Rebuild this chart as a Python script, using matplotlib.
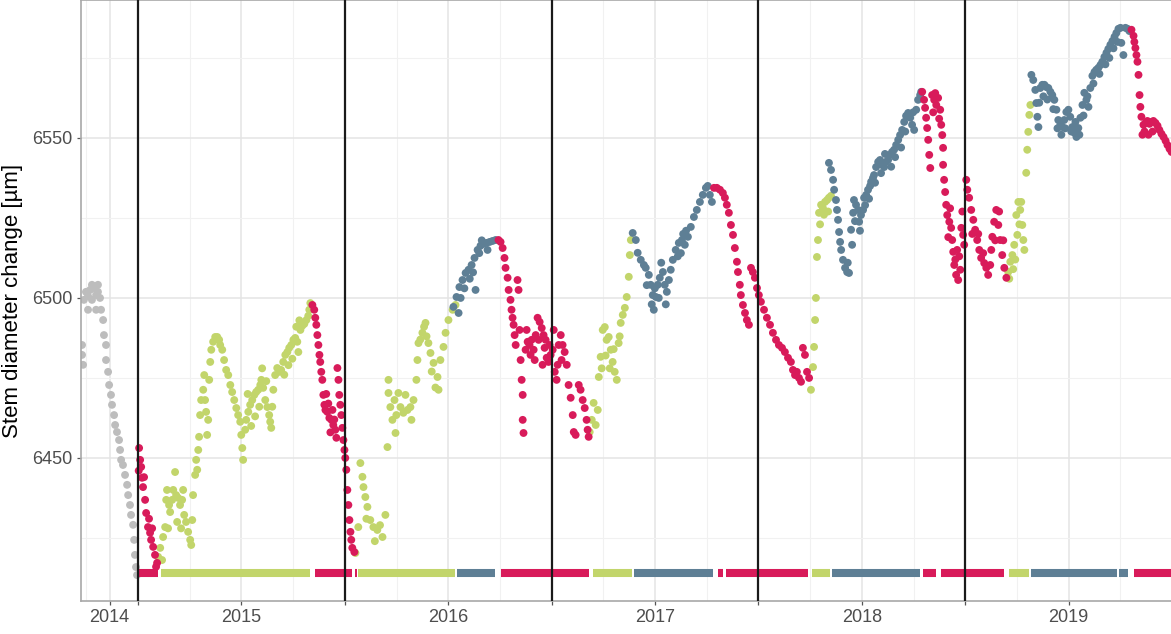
import matplotlib

matplotlib.use("Agg")
import matplotlib.pyplot as plt
import numpy as np

plt.rcParams["font.family"] = ["Liberation Sans", "DejaVu Sans"]

# ----- data: (decimal year, stem diameter change in um) -----
grey_pts = [
    (2014.729, 6482.2), (2014.729, 6485.3), (2014.734, 6479.1), (2014.738, 6499.4),
    (2014.748, 6501.9), (2014.758, 6500.6), (2014.758, 6496.3), (2014.768, 6502.5),
    (2014.777, 6499.4), (2014.777, 6504.1), (2014.787, 6503.1), (2014.797, 6500.9),
    (2014.797, 6496.3), (2014.806, 6501.9), (2014.806, 6504.1), (2014.816, 6500.0),
    (2014.821, 6496.3), (2014.831, 6493.1), (2014.835, 6488.4), (2014.845, 6485.3),
    (2014.845, 6480.6), (2014.855, 6476.9), (2014.860, 6472.8), (2014.869, 6469.7),
    (2014.874, 6466.6), (2014.884, 6463.4), (2014.889, 6460.3), (2014.898, 6458.1),
    (2014.908, 6455.6), (2014.913, 6452.5), (2014.918, 6449.4), (2014.927, 6447.8),
    (2014.937, 6444.7), (2014.947, 6441.6), (2014.952, 6438.4), (2014.961, 6435.3),
    (2014.966, 6432.2), (2014.976, 6429.1), (2014.981, 6424.4), (2014.985, 6419.7),
    (2014.990, 6415.9), (2014.995, 6413.4),
]

shrink_pts = [
    # 2015
    (2015.003, 6446.0), (2015.005, 6453.1), (2015.010, 6449.4), (2015.015, 6447.2),
    (2015.019, 6443.8), (2015.024, 6440.9), (2015.029, 6444.0), (2015.034, 6436.9),
    (2015.039, 6432.8), (2015.048, 6428.4), (2015.053, 6431.0), (2015.058, 6426.6),
    (2015.063, 6424.4), (2015.068, 6428.0), (2015.073, 6422.2), (2015.082, 6419.7),
    (2015.087, 6416.0), (2015.092, 6417.2),
    # 2015/16
    (2015.843, 6497.8), (2015.852, 6496.3), (2015.857, 6493.8), (2015.862, 6491.6),
    (2015.867, 6488.4), (2015.872, 6485.3), (2015.877, 6482.2), (2015.881, 6480.0),
    (2015.886, 6476.9), (2015.891, 6474.4), (2015.896, 6469.7), (2015.901, 6466.6),
    (2015.906, 6465.0), (2015.910, 6470.0), (2015.915, 6464.4), (2015.920, 6467.0),
    (2015.925, 6462.5), (2015.930, 6458.0), (2015.935, 6461.9), (2015.940, 6465.0),
    (2015.944, 6460.3), (2015.949, 6462.0), (2015.954, 6458.8), (2015.959, 6456.3),
    (2015.964, 6478.1), (2015.969, 6474.4), (2015.973, 6469.7), (2015.978, 6466.6),
    (2015.983, 6463.4), (2015.988, 6459.4), (2015.993, 6455.6), (2015.998, 6452.5),
    (2016.002, 6450.0), (2016.007, 6446.3), (2016.012, 6440.0), (2016.017, 6435.3),
    (2016.022, 6430.6), (2016.027, 6426.9), (2016.031, 6424.4), (2016.036, 6421.9),
    (2016.046, 6420.6),
    # 2016/17
    (2016.743, 6518.1), (2016.753, 6517.5), (2016.763, 6515.6), (2016.772, 6512.5),
    (2016.777, 6509.4), (2016.787, 6506.3), (2016.792, 6502.5), (2016.801, 6499.4),
    (2016.806, 6496.3), (2016.811, 6493.8), (2016.816, 6491.6), (2016.821, 6488.4),
    (2016.826, 6485.3), (2016.835, 6505.6), (2016.840, 6502.5), (2016.845, 6490.0),
    (2016.850, 6480.6), (2016.855, 6474.4), (2016.860, 6469.7), (2016.860, 6461.9),
    (2016.864, 6457.8), (2016.874, 6483.8), (2016.879, 6490.0), (2016.884, 6486.3),
    (2016.893, 6485.3), (2016.898, 6482.2), (2016.903, 6486.9), (2016.913, 6483.8),
    (2016.918, 6480.6), (2016.923, 6488.4), (2016.932, 6493.8), (2016.937, 6486.9),
    (2016.942, 6492.5), (2016.952, 6490.6), (2016.956, 6479.1), (2016.961, 6488.4),
    (2016.966, 6484.4), (2016.971, 6486.9), (2016.976, 6481.3), (2016.985, 6480.0),
    (2016.990, 6485.3), (2016.995, 6482.2), (2017.005, 6483.8), (2017.010, 6490.0),
    (2017.015, 6476.9), (2017.024, 6474.4), (2017.029, 6479.1), (2017.034, 6485.3),
    (2017.044, 6488.4), (2017.048, 6480.6), (2017.053, 6485.3), (2017.063, 6483.1),
    (2017.073, 6479.1), (2017.082, 6472.8), (2017.092, 6468.8), (2017.102, 6463.4),
    (2017.107, 6458.1), (2017.116, 6457.2), (2017.131, 6472.8), (2017.140, 6471.3),
    (2017.150, 6468.1), (2017.160, 6465.6), (2017.169, 6461.9), (2017.174, 6458.8),
    (2017.179, 6456.6),
    # 2017/18
    (2017.785, 6534.4), (2017.799, 6534.4), (2017.814, 6533.8), (2017.828, 6532.8),
    (2017.838, 6531.3), (2017.847, 6529.1), (2017.857, 6526.6), (2017.867, 6522.8),
    (2017.877, 6519.7), (2017.886, 6515.6), (2017.896, 6511.3), (2017.901, 6508.1),
    (2017.910, 6504.1), (2017.915, 6500.9), (2017.925, 6497.8), (2017.935, 6495.3),
    (2017.944, 6493.1), (2017.954, 6491.6), (2017.964, 6509.4), (2017.973, 6508.1),
    (2017.983, 6506.3), (2017.993, 6503.1), (2018.002, 6500.9), (2018.012, 6498.8),
    (2018.027, 6496.3), (2018.041, 6493.8), (2018.056, 6491.6), (2018.070, 6489.1),
    (2018.085, 6486.9), (2018.099, 6485.3), (2018.114, 6484.4), (2018.128, 6483.1),
    (2018.143, 6481.3), (2018.157, 6480.0), (2018.167, 6477.5), (2018.177, 6475.9),
    (2018.186, 6476.9), (2018.196, 6475.0), (2018.206, 6473.8), (2018.215, 6484.4),
    (2018.225, 6482.2), (2018.235, 6476.9), (2018.245, 6475.0),
    # 2018/19
    (2018.792, 6564.4), (2018.801, 6561.9), (2018.806, 6559.4), (2018.811, 6556.3),
    (2018.816, 6553.1), (2018.821, 6549.4), (2018.826, 6544.7), (2018.831, 6540.6),
    (2018.840, 6563.4), (2018.845, 6558.0), (2018.850, 6561.9), (2018.855, 6564.0),
    (2018.860, 6560.3), (2018.869, 6562.5), (2018.874, 6556.0), (2018.879, 6558.8),
    (2018.884, 6554.1), (2018.889, 6550.9), (2018.893, 6546.9), (2018.893, 6541.6),
    (2018.898, 6536.9), (2018.903, 6533.1), (2018.908, 6529.1), (2018.913, 6525.9),
    (2018.918, 6519.0), (2018.923, 6523.8), (2018.927, 6528.0), (2018.932, 6521.9),
    (2018.937, 6518.1), (2018.942, 6514.4), (2018.947, 6510.3), (2018.952, 6512.0),
    (2018.956, 6507.2), (2018.961, 6515.0), (2018.966, 6505.6), (2018.971, 6513.0),
    (2018.976, 6508.8), (2018.981, 6521.9), (2018.986, 6527.0), (2018.990, 6519.7),
    (2018.995, 6516.6), (2019.005, 6536.9), (2019.010, 6533.8), (2019.019, 6531.3),
    (2019.029, 6527.5), (2019.034, 6520.0), (2019.039, 6524.4), (2019.048, 6521.3),
    (2019.058, 6518.1), (2019.063, 6520.0), (2019.068, 6515.0), (2019.077, 6512.5),
    (2019.087, 6514.0), (2019.092, 6510.9), (2019.102, 6509.4), (2019.111, 6507.2),
    (2019.121, 6510.3), (2019.126, 6515.0), (2019.131, 6519.1), (2019.140, 6523.8),
    (2019.145, 6518.0), (2019.150, 6527.5), (2019.160, 6522.8), (2019.164, 6527.0),
    (2019.169, 6518.1), (2019.179, 6513.4), (2019.184, 6518.0), (2019.189, 6509.4),
    (2019.199, 6506.3),
    # 2019
    (2019.804, 6583.8), (2019.814, 6581.9), (2019.818, 6580.0), (2019.823, 6578.1),
    (2019.828, 6575.9), (2019.833, 6573.8), (2019.838, 6569.7), (2019.843, 6563.4),
    (2019.847, 6559.7), (2019.852, 6556.6), (2019.857, 6551.0), (2019.862, 6554.1),
    (2019.867, 6552.0), (2019.872, 6554.7), (2019.881, 6555.3), (2019.886, 6551.0),
    (2019.891, 6554.4), (2019.901, 6555.0), (2019.906, 6552.0), (2019.910, 6555.3),
    (2019.920, 6554.7), (2019.930, 6553.8), (2019.939, 6552.5), (2019.949, 6551.3),
    (2019.959, 6550.3), (2019.969, 6549.1), (2019.978, 6547.8), (2019.988, 6546.6),
    (2019.998, 6545.6),
]

recovery_pts = [
    # 2015
    (2015.097, 6419.1), (2015.107, 6421.9), (2015.116, 6418.1), (2015.121, 6425.3),
    (2015.131, 6428.4), (2015.136, 6436.9), (2015.140, 6440.0), (2015.145, 6428.0),
    (2015.150, 6435.3), (2015.155, 6433.1), (2015.165, 6436.9), (2015.170, 6440.0),
    (2015.179, 6445.6), (2015.184, 6438.4), (2015.189, 6430.0), (2015.194, 6437.5),
    (2015.203, 6435.3), (2015.208, 6428.0), (2015.213, 6436.9), (2015.218, 6440.0),
    (2015.223, 6432.2), (2015.232, 6430.0), (2015.242, 6426.9), (2015.252, 6424.4),
    (2015.257, 6422.8), (2015.262, 6430.6), (2015.266, 6438.4), (2015.276, 6444.7),
    (2015.281, 6449.4), (2015.286, 6446.3), (2015.291, 6452.5), (2015.295, 6456.6),
    (2015.300, 6463.4), (2015.305, 6468.1), (2015.315, 6471.3), (2015.320, 6475.9),
    (2015.324, 6468.1), (2015.329, 6464.4), (2015.334, 6457.2), (2015.339, 6461.9),
    (2015.344, 6474.4), (2015.349, 6480.0), (2015.354, 6483.8), (2015.363, 6486.3),
    (2015.373, 6487.8), (2015.383, 6487.8), (2015.392, 6486.9), (2015.397, 6485.3),
    (2015.407, 6483.8), (2015.416, 6480.6), (2015.426, 6477.5), (2015.436, 6475.9),
    (2015.446, 6472.8), (2015.455, 6470.6), (2015.465, 6468.1), (2015.475, 6465.6),
    (2015.484, 6463.4), (2015.494, 6461.3), (2015.499, 6457.2), (2015.504, 6453.1),
    (2015.508, 6449.4), (2015.518, 6458.8), (2015.523, 6461.9), (2015.530, 6470.0),
    (2015.533, 6464.4), (2015.542, 6466.6), (2015.547, 6460.0), (2015.552, 6468.1),
    (2015.562, 6469.7), (2015.566, 6463.0), (2015.571, 6470.6), (2015.581, 6471.3),
    (2015.586, 6466.0), (2015.591, 6472.8), (2015.596, 6474.4), (2015.600, 6478.0),
    (2015.605, 6471.9), (2015.615, 6468.1), (2015.620, 6474.0), (2015.625, 6465.9),
    (2015.634, 6463.4), (2015.639, 6461.3), (2015.644, 6459.4), (2015.649, 6466.0),
    (2015.654, 6471.3), (2015.663, 6475.9), (2015.673, 6478.1), (2015.683, 6476.9),
    (2015.692, 6477.5), (2015.702, 6480.0), (2015.707, 6476.0), (2015.712, 6482.2),
    (2015.722, 6483.1), (2015.727, 6479.0), (2015.731, 6484.4), (2015.741, 6485.3),
    (2015.746, 6481.0), (2015.751, 6486.9), (2015.760, 6487.5), (2015.765, 6491.0),
    (2015.770, 6486.3), (2015.775, 6483.1), (2015.780, 6493.0), (2015.785, 6490.0),
    (2015.794, 6491.3), (2015.804, 6491.9), (2015.814, 6493.1), (2015.823, 6494.4),
    (2015.828, 6496.3), (2015.833, 6498.4),
    # 2016
    (2016.051, 6420.3), (2016.065, 6428.4), (2016.075, 6448.4), (2016.085, 6444.1),
    (2016.090, 6440.9), (2016.099, 6437.8), (2016.104, 6431.0), (2016.109, 6434.7),
    (2016.123, 6430.6), (2016.138, 6428.4), (2016.145, 6424.0), (2016.157, 6427.5),
    (2016.170, 6429.0), (2016.182, 6425.3), (2016.196, 6432.2), (2016.206, 6453.4),
    (2016.211, 6474.4), (2016.211, 6470.3), (2016.220, 6465.9), (2016.230, 6461.9),
    (2016.240, 6468.1), (2016.245, 6457.8), (2016.249, 6463.4), (2016.259, 6470.3),
    (2016.269, 6465.9), (2016.283, 6464.1), (2016.293, 6469.7), (2016.303, 6465.0),
    (2016.317, 6465.9), (2016.322, 6461.9), (2016.332, 6468.1), (2016.346, 6474.4),
    (2016.351, 6480.6), (2016.356, 6485.9), (2016.365, 6487.0), (2016.375, 6489.1),
    (2016.383, 6491.0), (2016.390, 6492.2), (2016.395, 6488.0), (2016.404, 6485.9),
    (2016.414, 6482.8), (2016.420, 6477.0), (2016.429, 6479.7), (2016.438, 6472.0),
    (2016.448, 6475.3), (2016.453, 6471.3), (2016.462, 6480.6), (2016.477, 6484.7),
    (2016.487, 6489.1), (2016.501, 6493.1), (2016.521, 6496.3), (2016.535, 6497.8),
    # 2017
    (2017.184, 6458.1), (2017.194, 6461.9), (2017.203, 6467.2), (2017.213, 6460.3),
    (2017.223, 6465.0), (2017.228, 6475.3), (2017.237, 6481.6), (2017.242, 6478.0),
    (2017.247, 6490.0), (2017.257, 6490.9), (2017.261, 6482.0), (2017.266, 6486.9),
    (2017.276, 6487.8), (2017.281, 6478.0), (2017.286, 6483.8), (2017.295, 6480.0),
    (2017.300, 6484.0), (2017.305, 6476.9), (2017.315, 6474.4), (2017.324, 6485.9),
    (2017.329, 6488.0), (2017.334, 6492.2), (2017.344, 6494.7), (2017.354, 6496.9),
    (2017.363, 6500.3), (2017.373, 6506.6), (2017.378, 6513.4), (2017.383, 6518.1),
    # 2018
    (2018.254, 6471.3), (2018.264, 6478.4), (2018.269, 6484.7), (2018.274, 6493.1),
    (2018.278, 6500.0), (2018.283, 6512.8), (2018.288, 6518.1), (2018.293, 6526.6),
    (2018.298, 6523.0), (2018.303, 6529.1), (2018.312, 6528.1), (2018.317, 6526.0),
    (2018.322, 6530.0), (2018.332, 6530.6), (2018.337, 6527.0), (2018.341, 6531.3),
    (2018.351, 6531.9),
    # 2019
    (2019.208, 6508.1), (2019.213, 6506.0), (2019.218, 6511.3), (2019.228, 6513.4),
    (2019.232, 6509.0), (2019.237, 6516.6), (2019.242, 6512.0), (2019.247, 6525.9),
    (2019.252, 6519.7), (2019.257, 6530.0), (2019.262, 6523.0), (2019.266, 6527.5),
    (2019.271, 6530.0), (2019.276, 6522.8), (2019.281, 6518.1), (2019.286, 6515.0),
    (2019.295, 6539.1), (2019.300, 6546.3), (2019.305, 6551.9), (2019.310, 6557.2),
    (2019.315, 6560.3),
]

growth_pts = [
    # 2016
    (2016.525, 6497.2), (2016.540, 6500.3), (2016.550, 6495.3), (2016.554, 6503.4),
    (2016.560, 6500.0), (2016.569, 6505.6), (2016.578, 6503.0), (2016.584, 6507.8),
    (2016.598, 6508.8), (2016.604, 6506.0), (2016.613, 6510.3), (2016.620, 6508.0),
    (2016.627, 6512.5), (2016.632, 6502.5), (2016.642, 6515.0), (2016.650, 6514.0),
    (2016.656, 6516.3), (2016.662, 6518.0), (2016.671, 6516.9), (2016.685, 6517.2),
    (2016.690, 6515.0), (2016.700, 6517.5), (2016.714, 6517.8), (2016.729, 6518.1),
    # 2017
    (2017.392, 6520.3), (2017.407, 6518.1), (2017.416, 6514.1), (2017.431, 6511.9),
    (2017.446, 6510.3), (2017.455, 6509.4), (2017.460, 6504.0), (2017.470, 6507.2),
    (2017.479, 6504.1), (2017.484, 6498.0), (2017.489, 6500.9), (2017.494, 6496.3),
    (2017.499, 6503.0), (2017.504, 6500.3), (2017.513, 6504.1), (2017.518, 6500.0),
    (2017.523, 6506.3), (2017.530, 6511.0), (2017.538, 6508.1), (2017.547, 6504.1),
    (2017.552, 6498.0), (2017.557, 6501.9), (2017.567, 6505.6), (2017.576, 6508.8),
    (2017.586, 6511.9), (2017.600, 6515.0), (2017.610, 6513.0), (2017.615, 6517.2),
    (2017.625, 6514.0), (2017.630, 6518.1), (2017.636, 6520.0), (2017.644, 6516.6),
    (2017.650, 6521.0), (2017.659, 6519.1), (2017.673, 6522.2), (2017.688, 6525.3),
    (2017.702, 6527.5), (2017.717, 6530.0), (2017.731, 6532.2), (2017.746, 6534.4),
    (2017.755, 6535.0), (2017.765, 6532.2), (2017.775, 6530.0),
    # 2018
    (2018.341, 6542.2), (2018.351, 6540.0), (2018.361, 6536.9), (2018.366, 6533.8),
    (2018.375, 6530.6), (2018.380, 6527.5), (2018.385, 6524.4), (2018.390, 6520.6),
    (2018.395, 6517.5), (2018.400, 6515.0), (2018.409, 6511.9), (2018.419, 6509.4),
    (2018.429, 6508.1), (2018.432, 6511.0), (2018.438, 6507.8), (2018.448, 6521.3),
    (2018.453, 6516.6), (2018.458, 6526.6), (2018.462, 6530.6), (2018.467, 6524.0),
    (2018.472, 6529.1), (2018.482, 6527.5), (2018.487, 6523.8), (2018.491, 6521.0),
    (2018.496, 6525.9), (2018.506, 6527.5), (2018.511, 6531.3), (2018.516, 6529.0),
    (2018.521, 6532.2), (2018.530, 6533.8), (2018.535, 6531.0), (2018.540, 6535.0),
    (2018.545, 6536.3), (2018.554, 6537.5), (2018.559, 6538.4), (2018.564, 6536.0),
    (2018.569, 6540.9), (2018.579, 6542.5), (2018.588, 6543.1), (2018.593, 6539.0),
    (2018.598, 6541.6), (2018.608, 6540.9), (2018.612, 6545.0), (2018.617, 6542.5),
    (2018.627, 6543.1), (2018.637, 6544.7), (2018.642, 6541.0), (2018.646, 6545.6),
    (2018.656, 6546.3), (2018.661, 6544.0), (2018.666, 6547.8), (2018.676, 6549.4),
    (2018.685, 6550.9), (2018.690, 6547.0), (2018.695, 6552.5), (2018.705, 6555.0),
    (2018.710, 6552.0), (2018.714, 6556.9), (2018.724, 6557.8), (2018.734, 6556.3),
    (2018.743, 6554.1), (2018.748, 6558.0), (2018.753, 6552.5), (2018.763, 6558.8),
    (2018.772, 6561.9), (2018.782, 6563.4), (2018.787, 6564.4),
    # 2019
    (2019.320, 6569.7), (2019.329, 6568.1), (2019.339, 6565.0), (2019.344, 6560.9),
    (2019.349, 6556.6), (2019.354, 6553.4), (2019.358, 6561.0), (2019.363, 6565.6),
    (2019.373, 6566.6), (2019.378, 6563.0), (2019.383, 6566.6), (2019.392, 6565.9),
    (2019.397, 6562.0), (2019.402, 6565.6), (2019.412, 6564.4), (2019.421, 6563.4),
    (2019.426, 6559.0), (2019.431, 6561.9), (2019.441, 6558.8), (2019.446, 6553.0),
    (2019.450, 6555.6), (2019.460, 6554.1), (2019.465, 6551.0), (2019.470, 6553.4),
    (2019.479, 6555.6), (2019.484, 6553.0), (2019.489, 6558.1), (2019.499, 6558.8),
    (2019.508, 6556.6), (2019.513, 6552.0), (2019.518, 6553.4), (2019.528, 6551.6),
    (2019.533, 6555.0), (2019.538, 6550.3), (2019.547, 6553.1), (2019.552, 6551.0),
    (2019.557, 6556.3), (2019.567, 6560.3), (2019.572, 6557.0), (2019.576, 6564.1),
    (2019.586, 6561.9), (2019.591, 6563.0), (2019.596, 6559.7), (2019.605, 6565.6),
    (2019.615, 6569.4), (2019.620, 6567.0), (2019.625, 6570.6), (2019.634, 6571.3),
    (2019.644, 6571.9), (2019.649, 6570.0), (2019.654, 6572.8), (2019.663, 6573.8),
    (2019.673, 6575.3), (2019.678, 6573.0), (2019.683, 6576.6), (2019.692, 6577.8),
    (2019.697, 6575.0), (2019.702, 6579.1), (2019.712, 6580.3), (2019.717, 6578.0),
    (2019.722, 6581.6), (2019.731, 6582.8), (2019.736, 6580.0), (2019.741, 6584.1),
    (2019.751, 6584.4), (2019.755, 6579.7), (2019.765, 6575.9), (2019.775, 6584.4),
    (2019.785, 6584.1), (2019.794, 6583.4),
]

# phase bar along the bottom: (start, end, phase)
phase_bar = [
    (2015.000, 2015.097, "shrink"), (2015.111, 2015.833, "recovery"),
    (2015.857, 2016.036, "shrink"), (2016.051, 2016.061, "shrink"),
    (2016.065, 2016.535, "recovery"), (2016.540, 2016.724, "growth"),
    (2016.753, 2017.179, "shrink"), (2017.199, 2017.387, "recovery"),
    (2017.397, 2017.780, "growth"), (2017.804, 2017.828, "shrink"),
    (2017.843, 2018.240, "shrink"), (2018.259, 2018.346, "recovery"),
    (2018.356, 2018.782, "growth"), (2018.797, 2018.860, "shrink"),
    (2018.884, 2019.189, "shrink"), (2019.213, 2019.310, "recovery"),
    (2019.320, 2019.736, "growth"), (2019.746, 2019.789, "growth"),
    (2019.818, 2020.000, "shrink"),
]
bar_level = 6414.1

years = [2014, 2015, 2016, 2017, 2018, 2019]
year_starts = [2015, 2016, 2017, 2018, 2019]

colors = {"before": "#BDBDBD", "shrink": "#D81B5A",
          "recovery": "#C2D56B", "growth": "#5E7F95"}

x_min, x_max = 2014.724, 2020.0
y_min, y_max = 6405.3, 6593.1

# ----- plot -----
fig = plt.figure(figsize=(11.71, 6.34), dpi=100)
ax = fig.add_axes([81 / 1171, 33 / 634, 1091 / 1171, 601 / 634])

for pts, key in [(grey_pts, "before"), (recovery_pts, "recovery"),
                 (growth_pts, "growth"), (shrink_pts, "shrink")]:
    arr = np.array(pts)
    ax.scatter(arr[:, 0], arr[:, 1], s=32, color=colors[key],
               edgecolors="none", zorder=2)

for start, end, phase in phase_bar:
    ax.hlines(bar_level, start, end, colors=colors[phase], lw=5.8,
              capstyle="butt", zorder=2)

for y0 in year_starts:
    ax.axvline(y0, color="#1a1a1a", lw=1.6, zorder=3)

# year labels centred on the visible part of each year
label_pos = [(max(y, x_min) + min(y + 1, x_max)) / 2 for y in years]
ax.set_xticks(label_pos + year_starts)
ax.set_xticklabels([str(y) for y in years] + [""] * len(year_starts))
minor_x = [q for y in [2014] + year_starts for q in (y + 0.25, y + 0.75)
           if x_min < q < x_max]
ax.set_xticks(minor_x, minor=True)

ax.set_yticks([6450, 6500, 6550])
ax.set_yticks([6425, 6475, 6525, 6575], minor=True)

ax.set_xlim(x_min, x_max)
ax.set_ylim(y_min, y_max)

ax.grid(which="major", color="#e4e4e4", lw=1.1, zorder=0)
ax.grid(which="minor", color="#f1f1f1", lw=0.8, zorder=0)
ax.set_axisbelow(True)

ax.tick_params(which="major", length=3, width=0.9, color="#555555",
               labelsize=13, labelcolor="#4d4d4d", pad=3)
ax.tick_params(which="minor", length=0)
for sp in ax.spines.values():
    sp.set_color("#a8a8a8")
    sp.set_linewidth(1.2)

ax.set_ylabel("Stem diameter change [µm]", fontsize=16, color="black")
ax.yaxis.set_label_coords(-0.053, 0.5)

fig.savefig("out.png", dpi=100)
plt.close(fig)
